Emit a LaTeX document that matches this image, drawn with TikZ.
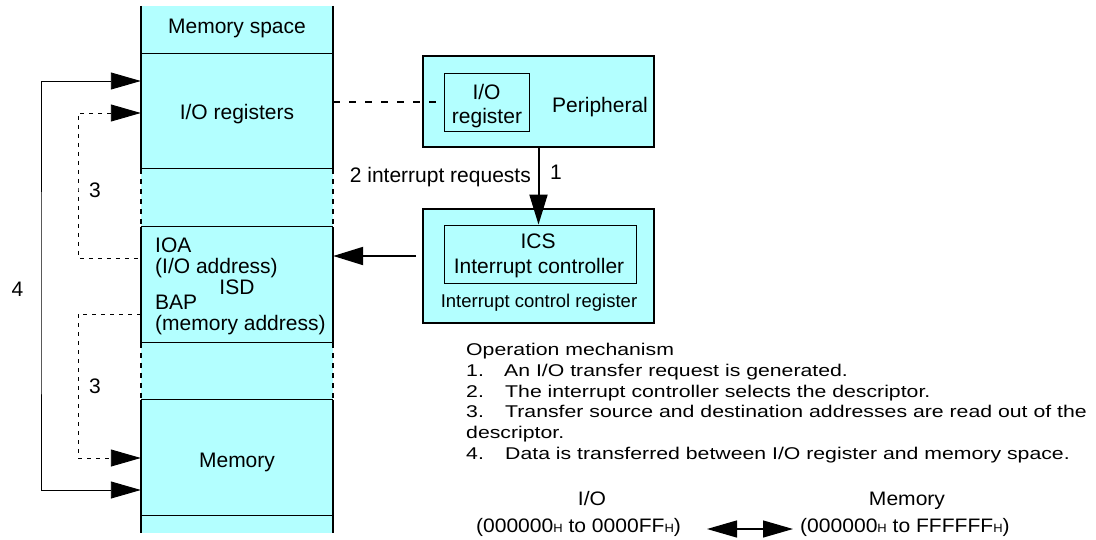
\documentclass[tikz,border=0pt]{standalone}
\usepackage{fontspec}
\setmainfont{Liberation Sans}
\newfontfamily\listfont[FakeStretch=1.25]{Liberation Sans}
\newfontfamily\botfont[FakeStretch=1.08]{Liberation Sans}
\usetikzlibrary{arrows.meta}
\definecolor{cyanfill}{RGB}{179,255,255}
\newcommand{\hsub}{{\fontsize{12}{12}\selectfont H}}
\begin{document}
\begin{tikzpicture}[x=1pt,y=-1pt,
  lab/.style={inner sep=0pt, font=\fontsize{21}{25}\selectfont},
  smalllab/.style={inner sep=0pt, font=\fontsize{18.5}{22}\selectfont},
  lst/.style={inner sep=0pt, anchor=base west, font=\listfont\fontsize{17}{20}\selectfont},
  bot/.style={inner sep=0pt, anchor=base, font=\botfont\fontsize{19.5}{23}\selectfont},
  seg/.style={fill=cyanfill, minimum width=192pt, inner sep=0pt, draw=none},
  bigbox/.style={fill=cyanfill, draw=black, line width=2pt, inner sep=0pt},
  inbox/.style={draw=black, line width=0.9pt, inner sep=0pt},
  colline/.style={line width=2pt},
  coldash/.style={line width=2pt, dash pattern=on 5pt off 5pt},
  sepline/.style={line width=1pt},
  thinarrow/.style={line width=0.9pt, -{Triangle[length=30pt,width=17pt]}},
  thindash/.style={line width=0.9pt, dash pattern=on 4pt off 5pt},
  thickarrow/.style={line width=2pt, -{Triangle[length=30pt,width=18pt]}},
]
\useasboundingbox (0,0) rectangle (1096,539);

% memory column segments
\node[seg, minimum height=48pt]  (mtop)  at (237,30) {};
\node[seg, minimum height=115pt] (ioreg) at (237,111.5) {};
\node[seg, minimum height=58pt]  (gap1)  at (237,198) {};
\node[seg, minimum height=116pt] (isd)   at (237,285) {};
\node[seg, minimum height=57pt]  (gap2)  at (237,371.5) {};
\node[seg, minimum height=116pt] (mem)   at (237,458) {};
\node[seg, minimum height=17pt]  (mbot)  at (237,524.5) {};

% vertical sides
\draw[colline] (mtop.north west) -- (ioreg.south west);
\draw[colline] (mtop.north east) -- (ioreg.south east);
\draw[coldash] (gap1.north west) -- (gap1.south west);
\draw[coldash] (gap1.north east) -- (gap1.south east);
\draw[colline] (isd.north west) -- (isd.south west);
\draw[colline] (isd.north east) -- (isd.south east);
\draw[coldash] (gap2.north west) -- (gap2.south west);
\draw[coldash] (gap2.north east) -- (gap2.south east);
\draw[colline] (mem.north west) -- (mbot.south west);
\draw[colline] (mem.north east) -- (mbot.south east);
% separators
\foreach \s in {ioreg,gap1,isd,gap2,mem,mbot}
  \draw[sepline] (\s.north west) -- (\s.north east);

% column labels
\node[lab, anchor=base] (lmspace) at (237,33) {Memory space};
\node[lab, anchor=base] (lioreg) at (237,119) {I/O registers};
\node[lab, anchor=base west] (lioa) at (155,252) {IOA};
\node[lab, anchor=base west] (lioaddr) at (155,273) {(I/O address)};
\node[lab, anchor=base] (lisd) at (237,294) {ISD};
\node[lab, anchor=base west] (lbap) at (155,309) {BAP};
\node[lab, anchor=base west] (lmemaddr) at (155,330) {(memory address)};
\node[lab, anchor=base] (lmem) at (237,467) {Memory};

% left connectors
\coordinate (c4) at (41,300);
\coordinate (c3a) at (78,190);
\coordinate (c3b) at (78,385);
\draw[line width=0.9pt, {Triangle[length=30pt,width=17pt]}-{Triangle[length=30pt,width=17pt]}]
  (ioreg.west |- 0,81) -| (c4) |- (mem.west |- 0,490);
\draw[thindash, {Triangle[length=30pt,width=17pt]}-]
  (ioreg.west |- 0,113) -| (c3a) |- (isd.west |- 0,258);
\draw[thindash, -{Triangle[length=30pt,width=17pt]}]
  (isd.west |- 0,314) -| (c3b) |- (mem.west |- 0,458);
\node[lab, anchor=base] (l3a) at (95,197) {3};
\node[lab, anchor=base] (l3b) at (95,393) {3};
\node[lab, anchor=base] (l4) at (17.5,296) {4};

% peripheral
\node[bigbox, minimum width=231pt, minimum height=91pt] (periph) at (538.5,101.5) {};
\node[inbox, fill=cyanfill, minimum width=85pt, minimum height=58pt] (iorbox) at (486.5,102) {};
\node[lab, anchor=base] (liorb1) at (486.5,99) {I/O};
\node[lab, anchor=base] (liorb2) at (487,123) {register};
\node[lab, anchor=base west] (lperiph) at (552,112) {Peripheral};

% interrupt control register
\node[bigbox, minimum width=231pt, minimum height=114pt] (icr) at (538.5,266) {};
\node[inbox, fill=cyanfill, minimum width=192pt, minimum height=58pt] (ics) at (540,254) {};
\node[lab, anchor=base] (lics) at (538,248) {ICS};
\node[lab, anchor=base] (lic) at (539,273) {Interrupt controller};
\node[smalllab, anchor=base] (licr) at (539,307) {Interrupt control register};

% connectors right side
\draw[line width=2pt, dash pattern=on 7pt off 9pt] (ioreg.east |- iorbox.west) -- (iorbox.west);
\draw[thickarrow] (periph.south) -- (periph.south |- ics.north);
\node[lab, anchor=base east] (lreq) at (531,182) {2 interrupt requests};
\node[lab, anchor=base] (l1) at (556,179) {1};
\coordinate (icrout) at (416,256);
\draw[thickarrow] (icrout) -- (isd.east |- icrout);

% operation list
\node[lst] (op) at (466,355) {Operation mechanism};
\node[lst] (n1) at (466,376) {1.};
\node[lst] (t1) at (504,376) {An I/O transfer request is generated.};
\node[lst] (n2) at (466,397) {2.};
\node[lst] (t2) at (505,397) {The interrupt controller selects the descriptor.};
\node[lst] (n3) at (466,417) {3.};
\node[lst] (t3) at (505,417) {Transfer source and destination addresses are read out of the};
\node[lst] (t3b) at (466,438) {descriptor.};
\node[lst] (n4) at (466,459) {4.};
\node[lst] (t4) at (505,459) {Data is transferred between I/O register and memory space.};

% bottom ranges
\node[bot] (bio) at (592,505) {I/O};
\node[bot] (bior) at (578.5,532) {(000000\hsub{} to 0000FF\hsub)};
\node[bot] (bmem) at (907,505) {Memory};
\node[bot, anchor=base west] (bmemr) at (800,532) {(000000\hsub{} to FFFFFF\hsub)};
\coordinate (dl) at (707,529);
\coordinate (dr) at (793,529);
\draw[line width=1.3pt, {Triangle[length=30pt,width=17pt]}-{Triangle[length=30pt,width=17pt]}] (dl) -- (dr);
\end{tikzpicture}
\end{document}
